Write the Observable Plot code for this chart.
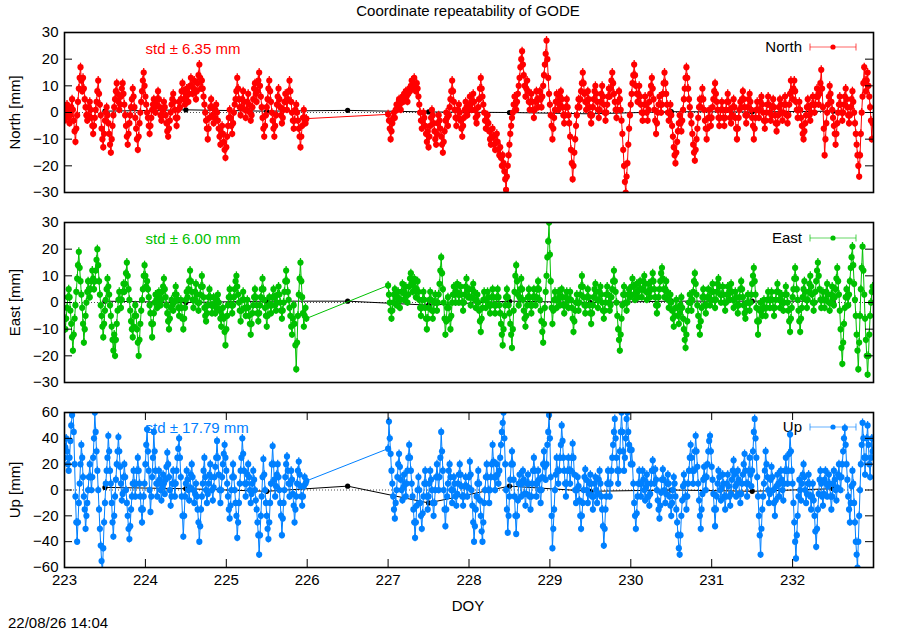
<!DOCTYPE html>
<html><head><meta charset="utf-8">
<script src="https://cdn.jsdelivr.net/npm/d3@7"></script>
<script src="https://cdn.jsdelivr.net/npm/@observablehq/plot@0.6"></script>
<style>
body{margin:0;background:#fff;font-family:"Liberation Sans",Arial,sans-serif;}
#wrap{position:relative;width:900px;height:630px;overflow:hidden;background:#fff;}
.abs{position:absolute;white-space:nowrap;font-size:15px;color:#000;line-height:1;transform:translate(-50%,-50%);}
.panel{position:absolute;left:0;z-index:2;}
.leg{position:absolute;z-index:1;font-size:15px;line-height:1;white-space:nowrap;}
</style></head><body><div id="wrap"></div>
<script>
// observation days (226 has no data)
const obsDays = [223, 224, 225, 227, 228, 229, 230, 231, 232];

// North residuals [mm], one row per day (3-hour groups of 12 epochs)
const north = [
  [-3,-1,1,3,1,-2,-4,-1,2,5,1,-3, -7,-11,-6,-1,4,9,13,17,12,8,13,9, 5,2,-1,-3,-1,2,4,1,-2,-5,-8,-5, -2,1,4,8,12,7,3,-1,-6,-10,-13,-8, -3,0,2,-1,-4,-8,-12,-15,-10,-5,-1,2, 5,8,11,7,4,1,3,6,9,11,7,3, -1,-5,-9,-12,-8,-4,-1,2,5,9,6,2, -2,-6,-10,-14,-9,-4,0,4,8,12,15,10],
  [6,3,0,-2,-5,-8,-5,-2,1,3,5,2, 0,3,5,8,5,2,-1,-3,-1,1,4,2, -1,-4,-7,-9,-6,-3,0,3,5,7,4,1, -2,-5,-2,1,4,2,5,8,11,8,5,3, 6,9,7,4,7,10,13,10,7,9,12,8, 5,8,11,14,18,13,9,12,9,6,3,0, -3,-6,-10,-6,-2,2,5,2,-1,-4,-2,1, 3,0,-3,-6,-9,-12,-8,-5,-8,-11,-14,-17],
  [-13,-9,-5,-2,1,-2,-5,-8,-4,0,3,5, 8,13,9,5,2,-1,2,5,8,4,1,-2, 1,4,7,3,0,-3,-1,2,5,9,11,7, 4,8,12,15,10,6,2,-2,-6,-9,-5,-1, 2,5,9,12,8,4,0,-3,-6,-9,-5,-1, 3,6,9,5,2,-1,-4,-2,1,4,7,4, 1,5,8,12,8,4,0,-3,-6,-3,1,3, 0,-3,-6,-9,-13,-9,-5,-2,1,-2,-4,-2.3],
  [-0.7,-3,-6,-10,-7,-4,-2,0,-2,1,3,1, 3,5,3,1,4,6,4,7,5,8,6,4, 7,9,8,10,12,9,11,13,10,8,11,9, 6,3,0,-3,-6,-3,0,-2,-5,-8,-11,-7, -13,-9,-5,-2,1,-1,-4,-7,-10,-12,-8,-4, -1,-3,-6,-9,-12,-15,-11,-7,-3,0,-2,-5, -1,2,5,8,12,8,4,1,-2,-5,-2,1, 3,0,-3,-6,-9,-5,-2,1,4,2,-1,1],
  [3,6,3,1,4,7,4,1,-2,-4,-1,2, 5,9,13,9,6,3,0,-3,-6,-3,-1,-4, -7,-10,-12,-9,-6,-9,-12,-14,-11,-8,-11,-14, -16,-13,-17,-20,-16,-19,-22,-25,-29,-24,-20,-16, -12,-8,-5,-2,0,3,6,3,1,4,7,10, 13,17,20,23,18,14,10,6,9,12,8,4, 1,4,7,4,1,-2,1,4,8,5,2,5, 8,5,2,6,10,14,18,22,27,20,13,7],
  [3,-1,-5,-10,-6,-2,1,4,7,4,1,3, 6,8,5,2,-1,-4,-1,2,5,2,-1,-4, -9,-14,-19,-25,-20,-15,-10,-5,-1,2,5,2, 5,8,11,15,11,7,4,1,4,8,5,2, -1,-4,-1,2,5,8,10,7,4,1,-2,1, 4,7,10,6,3,0,-3,0,3,6,9,6, 9,12,15,11,7,4,1,-2,1,4,8,5, 1,-3,-8,-14,-20,-26,-30,-24,-19,-12,-6,-1],
  [3,7,11,14,18,14,10,7,4,7,10,6, 3,0,-3,0,3,6,3,0,-3,1,4,7, 10,13,9,5,1,-3,-8,-4,0,3,6,3, 0,3,7,11,15,11,7,3,0,-3,0,3, -1,-5,-9,-13,-16,-19,-15,-11,-7,-4,-1,-4, -7,-3,1,5,9,13,17,13,9,5,2,-1, -4,-8,-12,-15,-18,-14,-10,-6,-2,2,5,2, 5,9,5,1,-3,-6,-10,-6,-2,1,-2,-5],
  [-2,2,5,8,11,7,4,1,-2,-5,-2,1, 4,1,-2,-5,-2,1,4,7,4,1,-2,-4, -1,2,5,2,-2,-6,-10,-6,-2,1,4,2, 5,8,5,2,-1,-4,-1,2,5,7,4,1, -2,-5,-10,-6,-2,1,4,1,-2,1,4,6, 3,0,-3,-6,-3,0,3,6,3,0,-3,-1, 2,5,2,-1,-4,-7,-4,-1,2,5,3,0, -3,0,3,6,3,-1,-4,-1,3,7,12,8],
  [5,9,12,8,4,1,-2,1,4,1,-2,-5, -8,-10,-7,-4,-1,2,5,2,-1,-3,0,3, 6,3,0,3,6,9,6,3,7,11,16,9, 2,-6,-16,-10,-4,0,3,6,10,7,4,1, -2,-5,-8,-12,-8,-4,0,3,6,3,0,-3, 0,3,6,9,5,2,-1,-4,-1,2,5,8, 4,0,-4,-8,-12,-16,-20,-24,-16,-8,0,6, 11,17,12,8,12,15,10,6,2,-3,-10,-4]
];

// East residuals [mm]
const east = [
  [-6,-10,-6,-2,2,5,2,-3,-8,-13,-18,-12, -6,-1,4,9,14,19,13,8,3,-2,-8,-15, -10,-5,0,4,8,5,2,5,8,12,9,5, 8,12,16,20,14,8,3,-1,-5,-9,-13,-8, -3,1,5,9,6,3,-1,-5,-9,-14,-18,-12, -20,-14,-8,-3,1,4,1,-2,1,4,7,4, 7,11,15,10,5,1,-3,-7,-10,-13,-9,-5, -1,-5,-10,-15,-20,-14,-8,-3,1,5,10,14],
  [10,6,8,5,2,-1,-4,-8,-13,-8,-4,0, 3,1,-2,1,4,2,-1,1,4,6,9,5, 2,-1,-4,-7,-10,-6,-2,1,-1,-3,0,3, 6,3,1,-2,-5,-2,1,-2,-6,-10,-6,-2, 1,4,2,5,8,12,8,4,1,-2,1,4, 7,3,0,-3,0,3,6,10,6,2,-2,-5, -7,-4,-1,2,5,2,-1,-4,-1,2,-1,-4, -2,1,3,0,-3,-6,-9,-5,-2,-6,-11,-16],
  [-10,-5,-1,2,5,2,-1,-4,-1,2,5,8, 10,6,3,0,-3,-7,-3,1,4,1,-2,-5, -2,1,-2,-5,-8,-12,-8,-4,-1,2,5,2, -1,-4,-7,-4,-1,2,5,9,5,1,-2,-5, -9,-5,-1,2,-1,-4,-1,2,5,2,-1,-3, 0,3,6,3,0,-3,-6,-3,0,4,8,12, 8,4,1,-2,-5,-9,-12,-6,-1,-8,-16,-25, -15,-5,3,9,15,8,2,-4,-9,-5,-2,-6],
  [6.4,3,0,-3,-6,-3,0,3,5,2,-1,2, 4,1,-2,1,4,7,4,1,3,6,3,0, 3,6,9,11,7,4,7,9,5,2,5,8, 4,1,-2,-5,-2,1,4,1,-2,-6,-10,-6, -2,1,4,1,-3,-6,-3,0,3,0,-3,0, 3,7,12,17,11,5,0,-6,-12,-7,-2,2, -2,-6,-10,-5,0,3,6,3,0,4,7,3, 0,3,6,3,0,-3,0,3,6,9,5,2],
  [5,2,-1,2,5,7,4,1,-2,1,3,0, -3,-7,-11,-6,-2,1,4,1,-2,1,4,2, -1,-4,-1,2,5,2,-1,-4,-1,2,5,2, -1,-4,-8,-12,-16,-10,-5,-1,2,5,2,-1, -4,-8,-12,-17,-10,-3,4,10,14,8,3,-1, 2,5,9,5,1,-3,-6,-9,-5,-1,2,5, 2,-1,-4,-1,2,5,2,-1,2,5,8,5, 1,-3,-7,-11,-15,-8,-2,4,10,17,23,30],
  [18,8,-2,-8,-3,1,4,1,-2,1,4,2, -1,2,5,2,-1,-4,-1,2,4,1,-2,1, 4,1,-2,-6,-11,-7,-3,0,3,0,-3,0, 3,6,10,6,2,-1,-4,-1,2,5,2,-1, -4,-8,-4,-1,2,5,7,4,1,-2,1,4, 6,3,0,-3,-6,-3,0,3,6,3,0,-3, -1,2,5,8,12,8,4,0,-5,-10,-14,-18, -12,-6,-1,3,6,3,0,-3,0,3,5,2],
  [3,6,9,6,3,1,4,7,4,2,5,8, 5,2,5,8,10,7,4,1,4,7,4,2, 5,8,11,8,5,2,-1,-4,-1,2,5,8, 11,13,9,5,2,5,8,4,1,-2,1,3, 0,-3,-6,-9,-5,-2,1,-2,-5,-8,-4,-1, 2,-2,-6,-10,-14,-17,-12,-7,-3,0,3,0, -3,1,4,8,11,7,3,-1,-5,-9,-12,-7, -2,2,5,2,-1,-4,-1,2,5,2,-1,1],
  [4,7,4,1,-2,1,4,7,9,6,3,0, 3,6,3,0,-3,0,3,6,3,1,4,7, 4,1,-2,1,4,2,-1,-4,-1,2,5,8, 5,2,-1,-4,-6,-3,0,3,0,-3,0,3, 7,10,13,8,3,-2,-7,-12,-7,-3,0,-3, -5,-2,1,-2,-5,-2,1,4,1,-2,1,4, 1,-2,-5,-2,1,4,7,4,1,-2,1,3, 0,-3,0,3,6,3,0,-3,-7,-11,-6,-2],
  [2,5,9,13,9,5,1,-3,-7,-11,-6,-2, 2,5,8,4,1,-2,1,4,7,10,6,3, 0,-3,0,4,8,12,15,10,5,1,-2,1, 4,1,-2,1,4,7,3,0,-3,0,3,6, 2,-1,2,5,9,13,8,3,-3,-10,-17,-23, -15,-8,-2,2,5,2,-1,3,8,13,17,21, 14,7,1,-5,-12,-18,-25,-15,-5,5,13,21, 12,3,-6,-14,-20,-27,-20,-12,-5,0,4,6]
];

// Up residuals [mm]
const up = [
  [25,33,40,30,20,15,25,38,50,58,65,45, 20,-5,-25,-40,-25,-10,5,20,35,25,10,-5, -15,-30,-20,-10,0,10,20,10,0,10,25,40, 60,45,30,15,0,-15,-30,-43,-55,-65,-45,-25, -10,5,15,25,42,30,15,5,-10,-25,-36,-20, -5,8,20,30,41,30,18,5,-8,-3,10,20, 10,0,-10,-20,-30,-38,-28,-15,-5,5,15,5, -5,5,15,25,15,5,-5,-15,-25,-15,-5,5],
  [20,35,47,30,15,0,-17,-5,10,25,45,30, 15,5,-5,5,15,8,0,-8,2,12,5,-3, 8,18,29,20,10,0,-12,-5,5,15,5,-5, 5,15,25,32,40,25,10,-5,-20,-36,-20,-5, 5,15,8,0,-8,2,12,20,10,0,-10,-3, 5,-5,-15,-25,-40,-28,-15,-5,5,15,25,10, 0,-10,-3,5,12,20,10,0,-8,2,10,18, 25,38,25,12,0,-10,0,10,20,28,35,25],
  [15,5,-5,-15,-22,-12,0,10,20,10,0,-10, -20,-37,-25,-10,5,15,25,40,28,15,5,-5, 5,12,20,10,0,-10,-3,5,15,8,0,-8, -15,-25,-35,-50,-35,-20,-5,10,24,12,0,-10, -20,-30,-38,-25,-10,5,20,34,20,8,-5,3, 12,20,10,0,-10,-20,-35,-22,-10,0,10,20, 26,15,5,-5,5,15,8,-3,-12,-25,-15,-5, 5,15,22,12,3,-5,-12,-5,3,10,5,7],
  [32,53,40,28,15,5,-5,-15,-22,-10,0,10, 20,28,18,8,0,-8,2,12,5,-5,5,15, 25,35,25,15,5,-5,-15,-25,-37,-25,-12,0, 10,0,-10,-20,-30,-18,-5,5,15,5,-5,-15, -5,5,15,8,0,-10,-20,-10,0,10,20,10, 0,10,25,45,30,15,0,-15,-28,-15,-5,5, 15,20,10,0,-10,0,10,5,-5,-12,-3,5, 12,20,12,3,-5,-12,-5,3,10,3,-5,2],
  [10,22,12,0,-12,-25,-40,-28,-15,-5,5,15, 5,-8,-20,-32,-40,-25,-10,0,10,20,10,0, -10,0,10,20,35,22,10,0,10,20,12,5, 15,25,35,45,52,60,40,20,0,-15,-33,-20, -5,8,20,30,20,8,-5,-20,-34,-20,-8,5, 12,5,-5,5,15,8,-3,-12,-3,5,12,5, -5,-15,-5,5,15,25,15,5,-5,5,15,8, 0,-10,0,10,20,30,18,8,20,35,45,58],
  [40,10,-20,-45,-30,-15,0,12,25,15,5,15, 25,35,50,38,25,15,5,-5,5,15,25,15, 5,15,25,36,25,12,0,-10,0,10,3,-8, -20,-30,-20,-10,0,10,16,8,0,-10,-3,5, 12,5,-5,-15,-5,5,10,0,-10,-3,8,15, 5,-5,-15,-28,-43,-30,-15,-5,5,15,5,-5, 5,15,25,35,45,55,40,25,15,5,15,30, 45,60,45,30,15,25,40,55,60,45,35,31],
  [20,31,20,5,-10,-20,-30,-18,-5,5,15,5, -5,5,15,8,0,-8,2,12,5,-5,-12,-3, 5,15,23,15,5,16,8,0,-8,-15,-22,-12, -2,8,16,8,0,-10,-3,5,12,5,-5,-12, -20,-10,0,10,5,-5,-15,-25,-35,-45,-50,-35, -20,-8,3,12,5,-5,-15,-5,5,15,25,35, 25,15,5,15,30,42,30,18,5,-8,-20,-30, -15,-3,8,18,10,0,10,20,30,38,42,30],
  [18,8,-3,-15,-28,-15,-5,5,15,10,0,-8, 2,12,5,-5,-15,-5,5,12,3,-5,-12,-3, 8,15,23,12,3,-5,5,15,8,-3,-10,-3, 5,12,20,28,15,5,-5,5,15,25,12,3, 15,30,45,55,40,25,10,-5,-20,-35,-50,-30, -15,-5,5,15,30,20,10,0,-10,-3,8,18, 10,0,-10,-20,-8,3,12,5,-5,5,15,8, 0,-8,5,15,25,15,5,15,28,43,30,15],
  [5,-10,-25,-40,-53,-35,-20,-5,8,0,-8,5, 12,20,10,0,-10,-3,5,12,5,-5,-15,-5, 5,-8,-20,-32,-44,-30,-15,-3,8,15,5,-5, -12,-3,8,15,5,-5,3,12,5,-5,-15,-5, 5,15,8,0,-8,2,12,20,10,0,10,20, 30,40,48,35,20,8,-5,-15,-25,-10,3,15, 5,-10,-25,-40,-50,-60,-40,-20,0,20,35,52, 40,25,12,25,40,50,35,20,10,25,40,30]
];

// formal error (half length of each error bar) [mm]
const errors = [1.5, 1.5, 3];

// daily (noon) solutions, black line
const dailyDays = [223.5, 224.5, 225.5, 226.5, 227.5, 228.5, 229.5, 230.5, 231.5, 232.5];
const northDaily = [0.5, 1, 0.5, 0.8, 0.2, 0, -0.5, 0.3, 0.2, 0.5];
const eastDaily  = [0.5, 0, 0.5, 0.5, -1, 0.5, 0, 0.5, 0.5, 0.5];
const upDaily    = [2, 1, -1, 3, -10, 3, -1, 0, -1, 1];

const xTicks = [223, 224, 225, 226, 227, 228, 229, 230, 231, 232];
const neTicks = [-30, -20, -10, 0, 10, 20, 30];
const upTicks = [-60, -40, -20, 0, 20, 40, 60];
const names = ["North", "East", "Up"];
const yLabels = ["North [mm]", "East [mm]", "Up [mm]"];
const stdLabels = ["std \u00b1 6.35 mm", "std \u00b1 6.00 mm", "std \u00b1 17.79 mm"];
const colors = ["#ff0000", "#00c000", "#0080ff"];

const FONT = "'Liberation Sans', Arial, sans-serif";
const wrap = document.getElementById("wrap");

function toSeries(byDay) {
  return byDay.flatMap((vals, k) => vals.map((v, i) => ({t: obsDays[k] + i / vals.length, v})));
}
function toDaily(vals) { return vals.map((v, i) => ({t: dailyDays[i], v})); }

const layouts = [
  {top: 0, height: 200, mt: 32, mb: 8},
  {top: 200, height: 200, mt: 22, mb: 18},
  {top: 400, height: 230, mt: 12, mb: 63}
];
const sets = [north, east, up];
const dailies = [northDaily, eastDaily, upDaily];
const W = 900, ML = 64, MR = 27, TICK = 8;
const innerW = W - ML - MR;

layouts.forEach((L, p) => {
  const yTicks = p === 2 ? upTicks : neTicks;
  const dom = [yTicks[0], yTicks[yTicks.length - 1]];
  const innerH = L.height - L.mt - L.mb;
  const data = toSeries(sets[p]);
  const daily = toDaily(dailies[p]);
  const color = colors[p];
  const e = errors[p];
  const marks = [
    Plot.ruleY([0], {stroke: "#000", strokeWidth: 0.7, strokeDasharray: "1,2"}),
    Plot.line(daily, {x: "t", y: "v", stroke: "#000", strokeWidth: 1}),
    Plot.dot(daily, {x: "t", y: "v", r: 2.6, fill: "#000", stroke: "none"}),
    Plot.text([stdLabels[p]], {frameAnchor: "top-left", dx: 81, dy: p === 2 ? 16 : 17, text: d => d, fill: color, textAnchor: "start", lineAnchor: "middle", fontSize: 15, fontFamily: FONT}),
    Plot.line(data, {x: "t", y: "v", stroke: color, strokeWidth: 1, clip: true}),
    Plot.ruleX(data, {x: "t", y1: d => d.v - e, y2: d => d.v + e, stroke: color, strokeWidth: 1.3, clip: true}),
    Plot.dot(data, {x: "t", y: "v", r: 3.1, fill: color, stroke: "none", clip: true}),
    Plot.frame({stroke: "#000", strokeWidth: 1.6}),
    Plot.tickY(yTicks, {y: d => d, insetRight: innerW - TICK, stroke: "#000"}),
    Plot.tickY(yTicks, {y: d => d, insetLeft: innerW - TICK, stroke: "#000"}),
    Plot.axisY(yTicks, {anchor: "left", tickSize: 0, tickPadding: 6, fontSize: 15, fontFamily: FONT, label: null}),
    Plot.text([yLabels[p]], {frameAnchor: "left", dx: -49, rotate: -90, text: d => d, fontSize: 15, fontFamily: FONT, textAnchor: "middle", lineAnchor: "middle"})
  ];
  if (p === 2) {
    marks.push(
      Plot.tickX(xTicks, {x: d => d, insetTop: innerH - TICK, stroke: "#000"}),
      Plot.tickX(xTicks, {x: d => d, insetBottom: innerH - TICK, stroke: "#000"}),
      Plot.axisX(xTicks, {anchor: "bottom", tickSize: 0, tickPadding: 7, fontSize: 15, fontFamily: FONT, label: null, tickFormat: d => String(d)})
    );
  }
  const chart = Plot.plot({
    width: W, height: L.height,
    marginLeft: ML, marginRight: MR, marginTop: L.mt, marginBottom: L.mb,
    x: {domain: [223, 233], axis: p === 2 ? undefined : null},
    y: {domain: dom},
    style: {background: "transparent", fontFamily: FONT, fontSize: "15px", overflow: "visible"},
    marks
  });
  chart.classList.add("panel");
  chart.style.top = L.top + "px";
  wrap.appendChild(chart);

  // legend (under the data layer)
  const legY = [47, 238, 427][p];
  const lt = document.createElement("div");
  lt.className = "leg";
  lt.textContent = names[p];
  lt.style.right = (W - 802) + "px";
  lt.style.top = (legY - 8) + "px";
  wrap.appendChild(lt);
  const ns = "http://www.w3.org/2000/svg";
  const s = document.createElementNS(ns, "svg");
  s.setAttribute("width", 50); s.setAttribute("height", 12);
  s.setAttribute("class", "leg");
  s.style.left = "808px"; s.style.top = (legY - 6) + "px";
  s.innerHTML = `<g stroke="${color}" stroke-opacity="0.6" stroke-width="1.2">
    <line x1="2" y1="6" x2="48" y2="6"/><line x1="2" y1="2.5" x2="2" y2="9.5"/><line x1="48" y1="2.5" x2="48" y2="9.5"/></g>
    <circle cx="25" cy="6" r="2.6" fill="${color}"/>`;
  wrap.appendChild(s);
});

function addText(txt, x, y, extra) {
  const d = document.createElement("div");
  d.className = "abs";
  d.textContent = txt;
  d.style.left = x + "px"; d.style.top = y + "px";
  if (extra) Object.assign(d.style, extra);
  wrap.appendChild(d);
}
addText("Coordinate repeatability of GODE", 468, 10);
addText("DOY", 468, 605);
addText("22/08/26 14:04", 8, 622, {transform: "translate(0,-50%)"});
</script></body></html>
